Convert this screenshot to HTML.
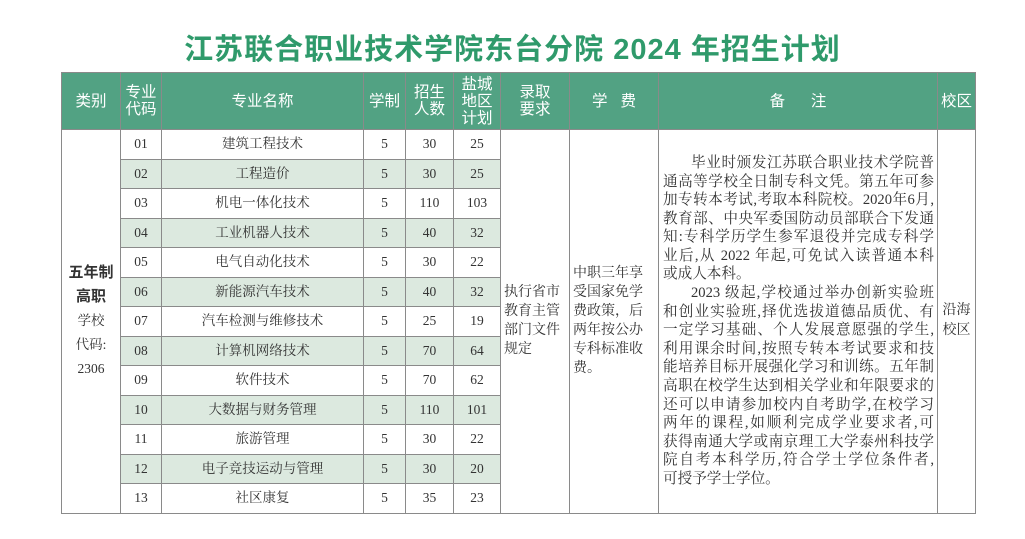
<!DOCTYPE html>
<html><head><meta charset="utf-8"><style>
body{margin:0;background:#fff;width:1025px;height:539px;overflow:hidden;font-family:"Liberation Serif","Noto Serif CJK SC",serif;color:#333}
.t{position:absolute;left:0;top:26px;width:1025px;text-align:center;font:bold 29px "Liberation Sans","Noto Sans CJK SC",sans-serif;color:#2f9a6b;letter-spacing:1px}
table{position:absolute;left:61px;top:72px;border-collapse:collapse;table-layout:fixed}
td{border:1px solid #8a8a8a;text-align:center;font-size:13.5px;padding:0;height:28.5px;line-height:16px}
tr.h td{background:#52a283;color:#fff;font:15.5px "Liberation Sans","Noto Sans CJK SC",sans-serif;line-height:17px;height:56px}
tr.g td.s{background:#dce9df}
.r div{text-align:justify;text-align-last:justify;white-space:nowrap;height:18.6px;line-height:18.6px}
.r div.l{text-align-last:left}
.r div.i{padding-left:28px}
</style></head><body>
<div class="t">江苏联合职业技术学院东台分院 2024 年招生计划</div>
<table>
<colgroup><col style="width:59px"><col style="width:41px"><col style="width:202px"><col style="width:42px"><col style="width:48px"><col style="width:47px"><col style="width:69px"><col style="width:89px"><col style="width:279px"><col style="width:38px"></colgroup>
<tr class="h"><td>类别</td><td>专业<br>代码</td><td>专业名称</td><td>学制</td><td>招生<br>人数</td><td>盐城<br>地区<br>计划</td><td>录取<br>要求</td><td>学&nbsp;&nbsp;&nbsp;费</td><td>备&nbsp;&nbsp;&nbsp;&nbsp;&nbsp;&nbsp;注</td><td>校区</td></tr>
<tr><td rowspan="13" style="line-height:24px"><b style="font-family:'Liberation Sans','Noto Sans CJK SC',sans-serif;font-size:15px;line-height:22px">五年制<br>高职</b><br>学校<br>代码:<br>2306</td><td>01</td><td>建筑工程技术</td><td>5</td><td>30</td><td>25</td>
<td rowspan="13" style="text-align:left;padding:0 3px;line-height:19px;font-size:14px">执行省市教育主管部门文件规定</td>
<td rowspan="13" style="text-align:left;padding:0 3px;line-height:19px;font-size:14px">中职三年享受国家免学费政策，后两年按公办专科标准收费。</td>
<td rowspan="13" class="r" style="padding:0 3px 0 4px;font-size:14.6px">
<div class="i">毕业时颁发江苏联合职业技术学院普</div>
<div>通高等学校全日制专科文凭。第五年可参</div>
<div>加专转本考试,考取本科院校。2020年6月,</div>
<div>教育部、中央军委国防动员部联合下发通</div>
<div>知:专科学历学生参军退役并完成专科学</div>
<div>业后,从 2022 年起,可免试入读普通本科</div>
<div class="l">或成人本科。</div>
<div class="i">2023 级起,学校通过举办创新实验班</div>
<div>和创业实验班,择优选拔道德品质优、有</div>
<div>一定学习基础、个人发展意愿强的学生,</div>
<div>利用课余时间,按照专转本考试要求和技</div>
<div>能培养目标开展强化学习和训练。五年制</div>
<div>高职在校学生达到相关学业和年限要求的</div>
<div>还可以申请参加校内自考助学,在校学习</div>
<div>两年的课程,如顺利完成学业要求者,可</div>
<div>获得南通大学或南京理工大学泰州科技学</div>
<div>院自考本科学历,符合学士学位条件者,</div>
<div class="l">可授予学士学位。</div>
</td>
<td rowspan="13" style="font-size:14px;line-height:20px">沿海<br>校区</td></tr>
<tr class="g"><td class="s">02</td><td class="s">工程造价</td><td class="s">5</td><td class="s">30</td><td class="s">25</td></tr>
<tr><td>03</td><td>机电一体化技术</td><td>5</td><td>110</td><td>103</td></tr>
<tr class="g"><td class="s">04</td><td class="s">工业机器人技术</td><td class="s">5</td><td class="s">40</td><td class="s">32</td></tr>
<tr><td>05</td><td>电气自动化技术</td><td>5</td><td>30</td><td>22</td></tr>
<tr class="g"><td class="s">06</td><td class="s">新能源汽车技术</td><td class="s">5</td><td class="s">40</td><td class="s">32</td></tr>
<tr><td>07</td><td>汽车检测与维修技术</td><td>5</td><td>25</td><td>19</td></tr>
<tr class="g"><td class="s">08</td><td class="s">计算机网络技术</td><td class="s">5</td><td class="s">70</td><td class="s">64</td></tr>
<tr><td>09</td><td>软件技术</td><td>5</td><td>70</td><td>62</td></tr>
<tr class="g"><td class="s">10</td><td class="s">大数据与财务管理</td><td class="s">5</td><td class="s">110</td><td class="s">101</td></tr>
<tr><td>11</td><td>旅游管理</td><td>5</td><td>30</td><td>22</td></tr>
<tr class="g"><td class="s">12</td><td class="s">电子竞技运动与管理</td><td class="s">5</td><td class="s">30</td><td class="s">20</td></tr>
<tr><td>13</td><td>社区康复</td><td>5</td><td>35</td><td>23</td></tr>
</table>
</body></html>
